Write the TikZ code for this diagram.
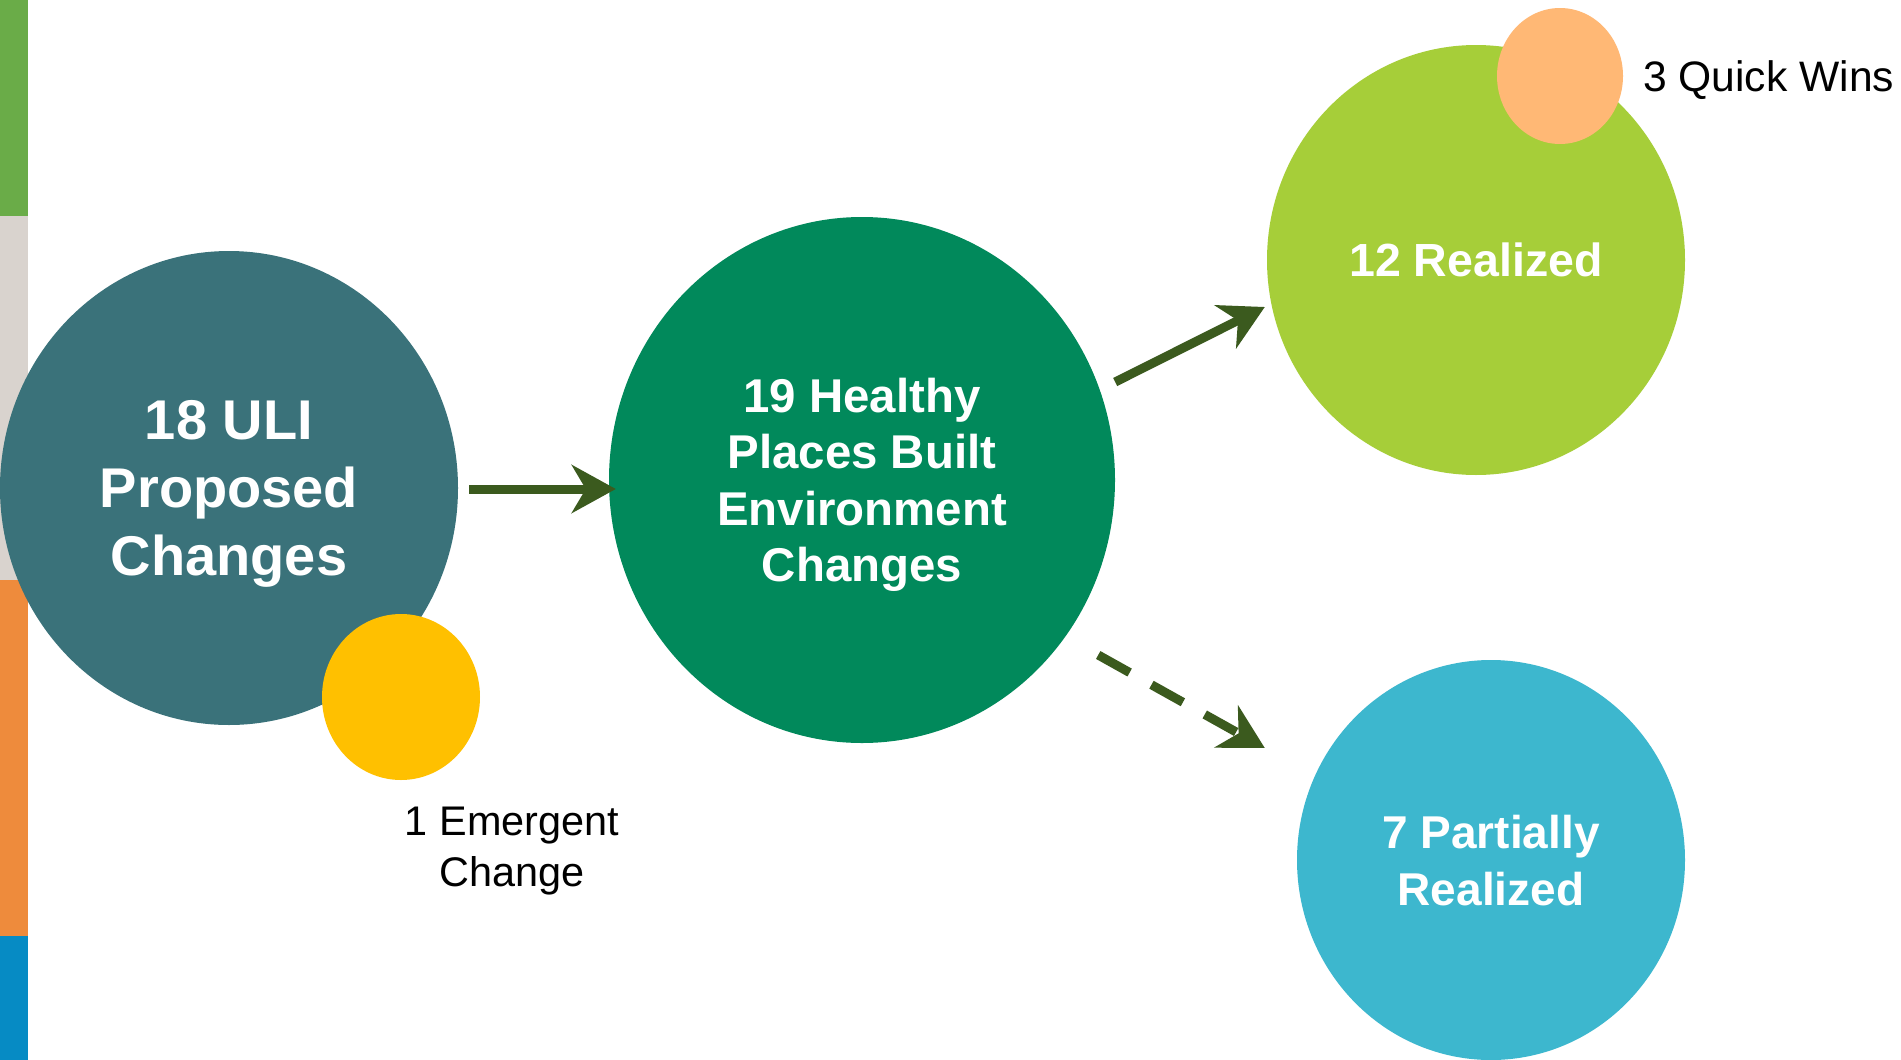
\documentclass[tikz,border=0pt]{standalone}
\usepackage{fontspec}
\setmainfont{Liberation Sans}
\usetikzlibrary{shapes.geometric,arrows.meta}
\definecolor{cteal}{HTML}{3A727A}
\definecolor{cyellow}{HTML}{FFC000}
\definecolor{cdkgreen}{HTML}{01895B}
\definecolor{cltgreen}{HTML}{A6CE39}
\definecolor{cpeach}{HTML}{FFB875}
\definecolor{cblue}{HTML}{3DB7CE}
\definecolor{carrow}{HTML}{3B5A1E}
\definecolor{barA}{HTML}{6AAC48}
\definecolor{barB}{HTML}{D9D3CE}
\definecolor{barC}{HTML}{EE8B3C}
\definecolor{barD}{HTML}{068BC4}
\begin{document}
\begin{tikzpicture}[x=1pt,y=-1pt,
  bubble/.style={ellipse, inner sep=0pt, text=white, align=center},
  dot/.style={ellipse, inner sep=0pt},
  lbl/.style={inner sep=0pt, align=center, text=black},
  arr/.style={line width=9pt, draw=carrow, -{Stealth[length=44pt,width=48pt,inset=14pt]}},
  ]
\useasboundingbox (0,0) rectangle (1901,1060);
\fill[white] (0,0) rectangle (1901,1060);
% left colour bar
\fill[barA] (0,0) rectangle (28,216);
\fill[barB] (0,216) rectangle (28,580);
\fill[barC] (0,580) rectangle (28,936);
\fill[barD] (0,936) rectangle (28,1060);
% circles
\node[bubble, fill=cteal, minimum width=458pt, minimum height=474pt, text depth=-10pt,
  font=\fontsize{56}{68}\selectfont\bfseries] (A) at (229,488) {18 ULI\\Proposed\\Changes};
\node[dot, fill=cyellow, minimum width=158pt, minimum height=166pt] (E) at (401,697) {};
\node[bubble, fill=cdkgreen, minimum width=506pt, minimum height=526pt, text depth=-7pt,
  font=\fontsize{47.4}{56.5}\selectfont\bfseries] (B) at (862,480) {19 Healthy\\Places Built\\Environment\\Changes};
\node[bubble, fill=cltgreen, minimum width=418pt, minimum height=430pt, text depth=-3pt,
  font=\fontsize{46.5}{56}\selectfont\bfseries] (C) at (1476,260) {12 Realized};
\node[dot, fill=cpeach, minimum width=126pt, minimum height=136pt] (F) at (1560,76) {};
\node[bubble, fill=cblue, minimum width=388pt, minimum height=400pt, text depth=-2pt,
  font=\fontsize{46}{57}\selectfont\bfseries] (D) at (1491,860) {7 Partially\\Realized};
% labels
\node[lbl, font=\fontsize{41.4}{51}\selectfont] (Elbl) at (512,851) {1 Emergent\\Change};
\node[lbl, anchor=west, font=\fontsize{42.6}{50}\selectfont] (Flbl) at (1643,80) {3 Quick Wins};
% arrows
\draw[arr] ([shift={(11,1)}]A.east) -- ([shift={(7,9)}]B.west);
\draw[arr] ([shift={(0,-98)}]B.east) -- ([shift={(-2,47)}]C.west);
\draw[arr, dash pattern=on 36pt off 25pt] ([shift={(-17,175)}]B.east) -- ([shift={(-32,-112)}]D.west);
\end{tikzpicture}
\end{document}
